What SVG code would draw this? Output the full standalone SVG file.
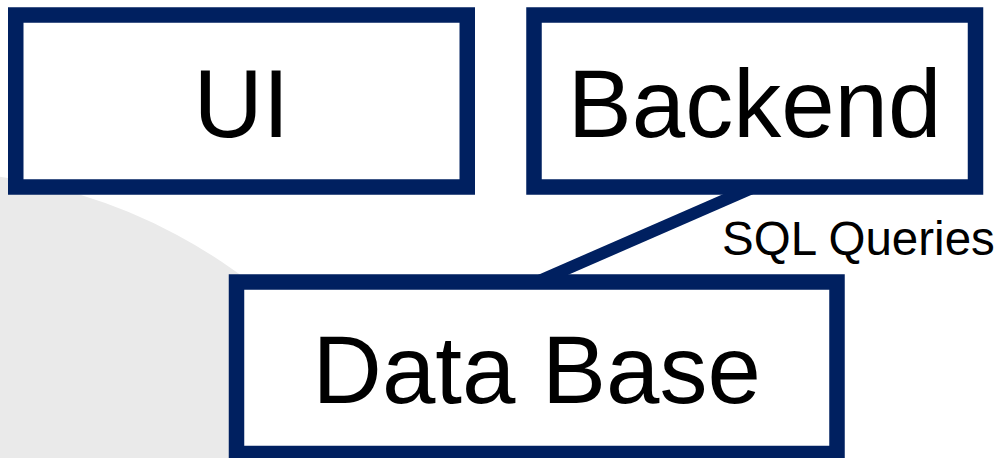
<svg xmlns="http://www.w3.org/2000/svg" width="1002" height="458" viewBox="0 0 1002 458">
  <style>
    .box { fill: #ffffff; stroke: #002060; stroke-width: 15.5; }
    .big { font-family: "Liberation Sans", Arial, sans-serif; font-size: 96px; fill: #000000; text-anchor: middle; }
    .lbl { font-family: "Liberation Sans", Arial, sans-serif; font-size: 47.5px; fill: #000000; }
    .conn { stroke: #002060; stroke-width: 12; fill: none; }
  </style>
  <rect width="1002" height="458" fill="#ffffff"/>
  <circle cx="-78" cy="711" r="540" fill="#EAEAEA"/>
  <g id="connectors">
    <line class="conn" x1="754.5" y1="187" x2="536.75" y2="282"/>
    <text class="lbl" x="722" y="255">SQL Queries</text>
  </g>
  <g id="node-ui">
    <rect class="box" x="15.75" y="15" width="451.5" height="172"/>
    <text class="big" x="241.5" y="137">UI</text>
  </g>
  <g id="node-backend">
    <rect class="box" x="534" y="15" width="441.5" height="172"/>
    <text class="big" x="754.5" y="137">Backend</text>
  </g>
  <g id="node-database">
    <rect class="box" x="236.5" y="282" width="600.5" height="171.5"/>
    <text class="big" x="536.75" y="403">Data Base</text>
  </g>
</svg>
